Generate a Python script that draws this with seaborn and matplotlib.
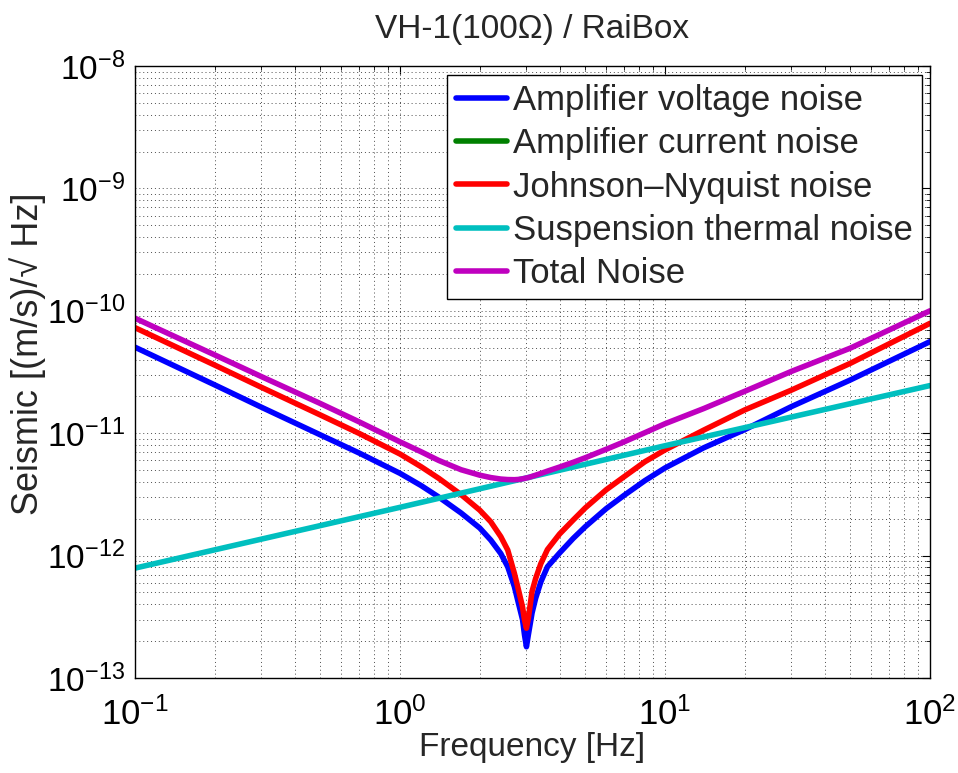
import numpy as np
import pandas as pd
import matplotlib
matplotlib.use("Agg")
import matplotlib.pyplot as plt
import seaborn as sns
from matplotlib.ticker import LogLocator, NullFormatter

sns.set_style("white")
plt.rcParams['font.family'] = ['Liberation Sans', 'DejaVu Sans']

#---- values ----|
freq = [0.1, 0.2, 0.3, 0.5, 0.7, 1.0, 1.2, 1.4, 1.7, 2.0, 2.2, 2.4, 2.55,
        2.7, 2.8, 2.9, 2.95, 3.0, 3.05, 3.15, 3.25, 3.4, 3.6, 4.0, 4.5,
        5.0, 6.0, 7.0, 8.4, 10, 14, 20, 30, 50, 100]

voltage_noise = [5.04e-11, 2.48e-11, 1.63e-11, 9.7e-12, 6.9e-12, 4.7e-12,
                 3.74e-12, 3.01e-12, 2.23e-12, 1.68e-12, 1.34e-12, 1.04e-12,
                 8.1e-13, 5.6e-13, 4.07e-13, 3.0e-13, 2.25e-13, 1.8e-13,
                 2.25e-13, 3.4e-13, 4.48e-13, 6.1e-13, 8.1e-13, 1.05e-12,
                 1.38e-12, 1.72e-12, 2.42e-12, 3.1e-12, 4.1e-12, 5.2e-12,
                 7.6e-12, 1.07e-11, 1.65e-11, 2.72e-11, 5.6e-11]

johnson_noise = [7.28e-11, 3.6e-11, 2.37e-11, 1.41e-11, 9.98e-12, 6.76e-12,
                 5.33e-12, 4.28e-12, 3.15e-12, 2.35e-12, 1.89e-12, 1.43e-12,
                 1.11e-12, 7.2e-13, 5.24e-13, 3.8e-13, 2.98e-13, 2.55e-13,
                 3.08e-13, 5.1e-13, 6.5e-13, 8.6e-13, 1.12e-12, 1.5e-12,
                 1.95e-12, 2.45e-12, 3.45e-12, 4.4e-12, 5.85e-12, 7.3e-12,
                 1.06e-11, 1.55e-11, 2.25e-11, 3.72e-11, 7.9e-11]

total_noise = [8.7e-11, 4.36e-11, 2.9e-11, 1.75e-11, 1.24e-11, 8.5e-12,
               7.06e-12, 5.99e-12, 5.03e-12, 4.54e-12, 4.34e-12, 4.22e-12,
               4.18e-12, 4.17e-12, 4.19e-12, 4.24e-12, 4.27e-12, 4.31e-12,
               4.34e-12, 4.44e-12, 4.54e-12, 4.69e-12, 4.9e-12, 5.29e-12,
               5.78e-12, 6.3e-12, 7.39e-12, 8.49e-12, 1.01e-11, 1.195e-11,
               1.59e-11, 2.2e-11, 3.2e-11, 4.95e-11, 1.0e-10]

thermal_freq = [0.1, 1, 10, 100]
thermal_noise = [7.9e-13, 2.48e-12, 7.9e-12, 2.45e-11]

labels = ['Amplifier voltage noise', 'Amplifier current noise',
          'Johnson\u2013Nyquist noise', 'Suspension thermal noise', 'Total Noise']
colors = ['#0000ff', '#008000', '#ff0000', '#00bfbf', '#bf00bf']

fig = plt.figure(figsize=(9.58, 7.73), dpi=100)
ax = fig.add_axes([135/958, 1-678/773, 795/958, 612/773])

lw = 4
sns.lineplot(x=freq, y=voltage_noise, color=colors[0], lw=lw, ax=ax, sort=False)
# current noise lies below the plotted range -> legend entry only
ax.plot([], [], color=colors[1], lw=lw)
sns.lineplot(x=freq, y=johnson_noise, color=colors[2], lw=lw, ax=ax, sort=False)
sns.lineplot(x=thermal_freq, y=thermal_noise, color=colors[3], lw=lw, ax=ax, sort=False)
sns.lineplot(x=freq, y=total_noise, color=colors[4], lw=lw, ax=ax, sort=False)

ax.set_xscale('log')
ax.set_yscale('log')
ax.set_xlim(0.1, 100)
ax.set_ylim(1e-13, 1e-8)

ax.yaxis.set_minor_locator(LogLocator(base=10, subs=np.arange(2, 10), numticks=50))
ax.xaxis.set_minor_locator(LogLocator(base=10, subs=np.arange(2, 10), numticks=50))
ax.xaxis.set_minor_formatter(NullFormatter())
ax.yaxis.set_minor_formatter(NullFormatter())

ax.grid(True, which='both', ls=(0, (1, 3)), color='0.3', lw=0.7)
ax.tick_params(which='both', direction='in', top=True, right=True, colors='black')
ax.tick_params(which='major', length=6, width=0.8)
ax.tick_params(axis='x', which='major', pad=14, labelsize=25)
ax.tick_params(axis='y', which='major', pad=7, labelsize=24)
ax.tick_params(which='minor', length=3, width=0.6)
for s in ax.spines.values():
    s.set_color('black')
    s.set_linewidth(1.0)

ax.set_title('VH-1(100\u03a9) / RaiBox', fontsize=24, pad=20)
ax.set_xlabel('Frequency [Hz]', fontsize=24, labelpad=0)
ax.set_ylabel('Seismic [(m/s)/\u221a Hz]', fontsize=26)
ax.yaxis.set_label_coords(-0.112, 0.53)

handles = [l for l in ax.get_lines() if l.get_linestyle() == '-'][:5]
leg = ax.legend(handles, labels, loc='upper right',
                bbox_to_anchor=(922/958, 1-75/773), bbox_transform=fig.transFigure,
                fontsize=25, frameon=True, fancybox=False, edgecolor='black',
                framealpha=1, handlelength=1.45, handletextpad=0.2,
                labelspacing=0.3, borderpad=0.25, borderaxespad=0)
leg.get_frame().set_linewidth(1.0)

fig.savefig('out.png', dpi=100, facecolor='white')
